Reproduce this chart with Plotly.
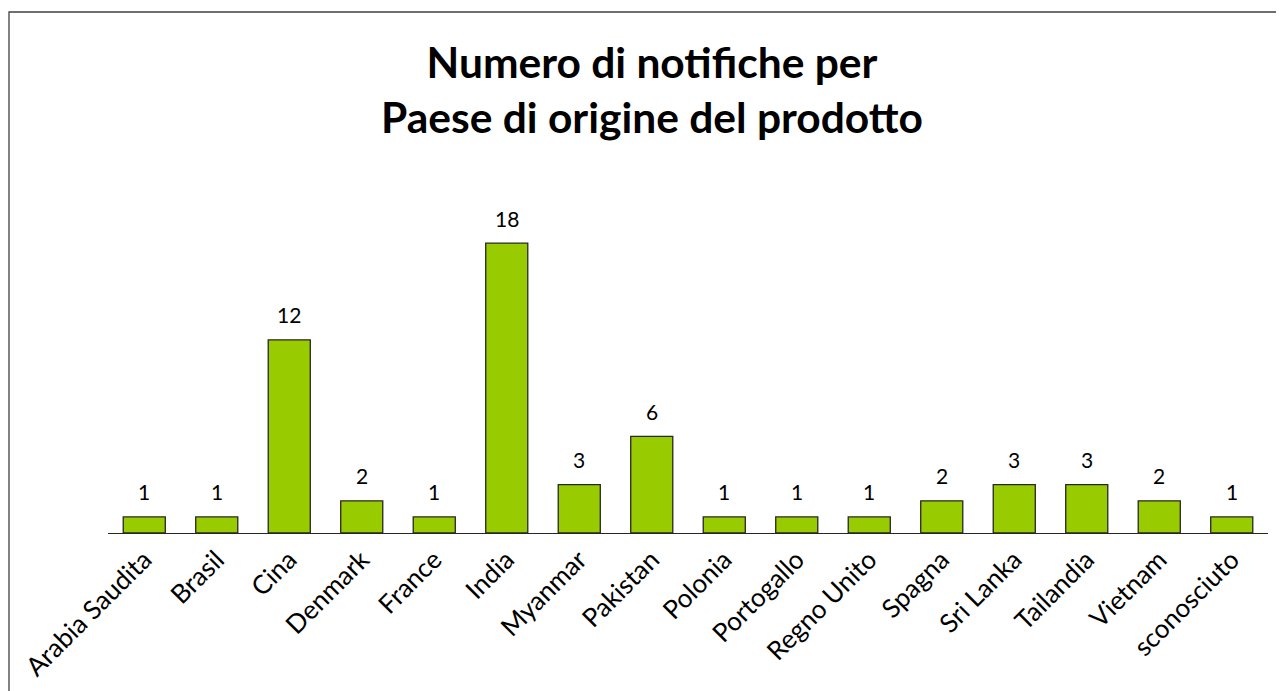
import plotly.graph_objects as go

categories = ["Arabia Saudita", "Brasil", "Cina", "Denmark", "France", "India", "Myanmar",
              "Pakistan", "Polonia", "Portogallo", "Regno Unito", "Spagna", "Sri Lanka",
              "Tailandia", "Vietnam", "sconosciuto"]
values = [1, 1, 12, 2, 1, 18, 3, 6, 1, 1, 1, 2, 3, 3, 2, 1]

OFF = 8  # page body margin
W, H = 1284 - OFF, 691 - OFF
L, R, T, B = 108 - OFF, 24 - OFF, 211 - OFF, 158
pw = W - L - R
ph = H - T - B

FONT = "Lato, Open Sans, sans-serif"

fig = go.Figure()
fig.add_trace(go.Bar(
    x=categories, y=values,
    marker=dict(color="#99CC00", line=dict(color="#262626", width=1.3)),
    width=0.58,
))
for c, v in zip(categories, values):
    fig.add_annotation(x=c, y=v, text=str(v), showarrow=False, yshift=25,
                       font=dict(size=21, color="#000000", family=FONT))

fig.add_shape(type="rect", xref="paper", yref="paper",
              x0=(9 - 108) / pw, x1=(W + 20 - L) / pw,
              y0=-(H + 20 - (T + ph)) / ph, y1=(533 - 12) / ph,
              line=dict(color="#404040", width=1.3), fillcolor="rgba(0,0,0,0)", layer="below")

fig.update_layout(
    width=W, height=H,
    margin=dict(l=L, r=R, t=T, b=B, autoexpand=False),
    paper_bgcolor="white", plot_bgcolor="white",
    showlegend=False,
    title=dict(text="<b>Numero di notifiche per<br>Paese di origine del prodotto</b>",
               x=(652 - OFF) / W, xanchor="center", y=1 - (78 - OFF) / H, yanchor="middle",
               font=dict(size=42.5, color="#000000", family=FONT)),
    xaxis=dict(tickangle=-45, showline=True, linecolor="#262626", linewidth=1.3,
               ticks="", tickfont=dict(size=26, color="#000000", family=FONT),
               showgrid=False, automargin=False, range=[-0.5, len(categories) - 0.5]),
    yaxis=dict(visible=False, range=[0, 20], showgrid=False, zeroline=False, automargin=False),
)

fig.write_html("out.html")
